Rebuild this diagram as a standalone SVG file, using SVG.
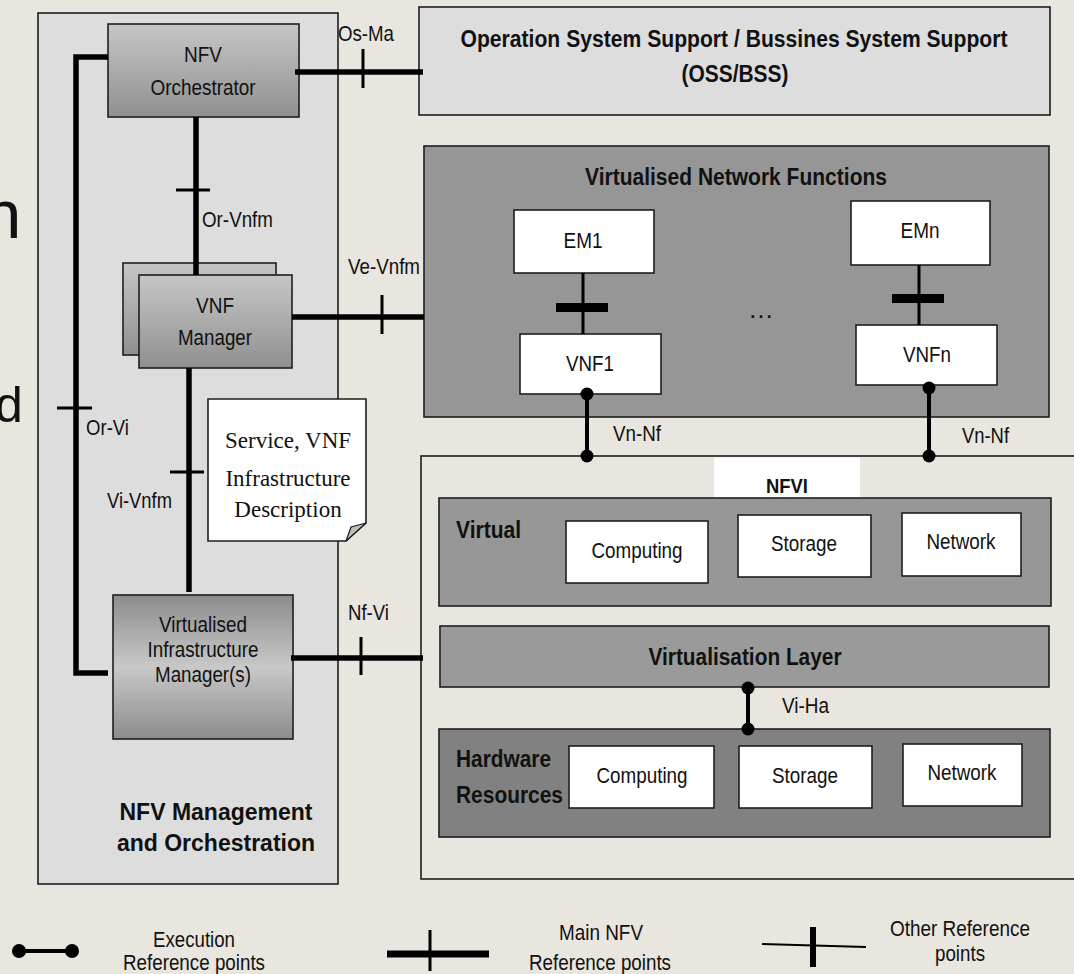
<svg xmlns="http://www.w3.org/2000/svg" width="1074" height="974" viewBox="0 0 1074 974">
<defs>
<linearGradient id="gDown" x1="0" y1="0" x2="0" y2="1">
<stop offset="0" stop-color="#c6c6c6"/><stop offset="1" stop-color="#909090"/>
</linearGradient>
<linearGradient id="gMid" x1="0" y1="0" x2="0" y2="1">
<stop offset="0" stop-color="#8c8c8c"/><stop offset="0.5" stop-color="#c8c8c8"/><stop offset="1" stop-color="#8c8c8c"/>
</linearGradient>
<clipPath id="clipD"><rect x="0" y="386" width="40" height="40"/></clipPath>
<style>
.box{stroke:#1e1e1e;stroke-width:1.6}
.t{font-family:"Liberation Sans",Arial,sans-serif;font-size:21.5px;fill:#111}
.c{text-anchor:middle}
.b{font-family:"Liberation Sans",Arial,sans-serif;font-weight:bold;font-size:23px;fill:#111}
.serif{font-family:"Liberation Serif","Times New Roman",serif;font-size:23px;fill:#111;text-anchor:middle}
.main{stroke:#000;stroke-width:5.5;fill:none}
.tick{stroke:#000;stroke-width:3;fill:none}
.exec{stroke:#000;stroke-width:4;fill:none}
.thin{stroke:#000;stroke-width:3;fill:none}
</style>
</defs>
<rect width="1074" height="974" fill="#e9e5df"/>
<g id="bg-fragments">
<text x="-17" y="238" style="font-family:'Liberation Sans',Arial,sans-serif;font-size:69px;fill:#111">n</text>
<text x="-5" y="422" clip-path="url(#clipD)" style="font-family:'Liberation Sans',Arial,sans-serif;font-size:50px;fill:#111">d</text>
</g>

<g id="mano">
<rect class="box" x="38" y="13" width="300" height="871" fill="#dddddd"/>
<text class="b c" x="216" y="820">NFV Management</text>
<text class="b c" x="216" y="851">and Orchestration</text>
</g>

<g id="oss">
<rect class="box" x="419" y="7" width="631" height="108" fill="#dddddd"/>
<text class="b c" x="734" y="47" textLength="547" lengthAdjust="spacingAndGlyphs">Operation System Support / Bussines System Support</text>
<text class="b c" x="735" y="82" textLength="107" lengthAdjust="spacingAndGlyphs">(OSS/BSS)</text>
</g>

<g id="vnf-area">
<rect class="box" x="424" y="146" width="625" height="271" fill="#969696"/>
<text class="b c" x="736" y="185" textLength="302" lengthAdjust="spacingAndGlyphs">Virtualised Network Functions</text>
<text class="t c" x="761" y="318" style="font-size:26px">…</text>
</g>

<g id="nfvi">
<rect class="box" x="421" y="456" width="660" height="423" fill="#e9e5df"/>
<rect x="714" y="457.5" width="146" height="40" fill="#ffffff"/>
<text class="b c" x="787" y="493" textLength="42" lengthAdjust="spacingAndGlyphs" style="font-size:21px">NFVI</text>
</g>

<g id="virtual">
<rect class="box" x="439" y="498" width="612" height="108" fill="#979797"/>
<text class="b" x="456" y="538" textLength="65" lengthAdjust="spacingAndGlyphs">Virtual</text>
</g>
<g id="v-computing"><rect class="box" x="566" y="521" width="142" height="62" fill="#fff"/><text class="t c" x="637" y="558" textLength="91" lengthAdjust="spacingAndGlyphs">Computing</text></g>
<g id="v-storage"><rect class="box" x="738" y="515" width="133" height="62" fill="#fff"/><text class="t c" x="804" y="551" textLength="66" lengthAdjust="spacingAndGlyphs">Storage</text></g>
<g id="v-network"><rect class="box" x="902" y="513" width="119" height="63" fill="#fff"/><text class="t c" x="961" y="549" textLength="69" lengthAdjust="spacingAndGlyphs">Network</text></g>

<g id="virt-layer">
<rect class="box" x="440" y="626" width="609" height="61" fill="#9a9a9a"/>
<text class="b c" x="745" y="665" textLength="193" lengthAdjust="spacingAndGlyphs">Virtualisation Layer</text>
</g>

<g id="hardware">
<rect class="box" x="439" y="729" width="611" height="108" fill="#818181"/>
<text class="b" x="456" y="767" textLength="95" lengthAdjust="spacingAndGlyphs">Hardware</text>
<text class="b" x="456" y="803" textLength="107" lengthAdjust="spacingAndGlyphs">Resources</text>
</g>
<g id="h-computing"><rect class="box" x="569" y="746" width="145" height="62" fill="#fff"/><text class="t c" x="642" y="783" textLength="91" lengthAdjust="spacingAndGlyphs">Computing</text></g>
<g id="h-storage"><rect class="box" x="739" y="746" width="133" height="62" fill="#fff"/><text class="t c" x="805" y="783" textLength="66" lengthAdjust="spacingAndGlyphs">Storage</text></g>
<g id="h-network"><rect class="box" x="903" y="744" width="119" height="62" fill="#fff"/><text class="t c" x="962" y="780" textLength="69" lengthAdjust="spacingAndGlyphs">Network</text></g>

<g id="em1"><rect class="box" x="514" y="210" width="140" height="63" fill="#fff"/><text class="t c" x="583" y="248" textLength="39" lengthAdjust="spacingAndGlyphs">EM1</text></g>
<g id="vnf1"><rect class="box" x="520" y="334" width="141" height="60" fill="#fff"/><text class="t c" x="590" y="371" textLength="48" lengthAdjust="spacingAndGlyphs">VNF1</text></g>
<g id="emn"><rect class="box" x="851" y="201" width="139" height="64" fill="#fff"/><text class="t c" x="920" y="238" textLength="39" lengthAdjust="spacingAndGlyphs">EMn</text></g>
<g id="vnfn"><rect class="box" x="856" y="325" width="141" height="60" fill="#fff"/><text class="t c" x="927" y="362" textLength="48" lengthAdjust="spacingAndGlyphs">VNFn</text></g>

<g id="nfvo">
<rect class="box" x="108" y="24" width="191" height="93" fill="url(#gDown)"/>
<text class="t c" x="203" y="62" textLength="38" lengthAdjust="spacingAndGlyphs">NFV</text>
<text class="t c" x="203" y="95" textLength="105" lengthAdjust="spacingAndGlyphs">Orchestrator</text>
</g>

<g id="vnfm">
<rect class="box" x="123" y="263" width="153" height="92" fill="url(#gDown)"/>
<rect class="box" x="139" y="275" width="153" height="93" fill="url(#gDown)"/>
<text class="t c" x="215" y="313" textLength="38" lengthAdjust="spacingAndGlyphs">VNF</text>
<text class="t c" x="215" y="345" textLength="74" lengthAdjust="spacingAndGlyphs">Manager</text>
</g>

<g id="vim">
<rect class="box" x="113" y="595" width="180" height="144" fill="url(#gMid)"/>
<text class="t c" x="203" y="632" textLength="88" lengthAdjust="spacingAndGlyphs">Virtualised</text>
<text class="t c" x="203" y="657" textLength="111" lengthAdjust="spacingAndGlyphs">Infrastructure</text>
<text class="t c" x="203" y="682" textLength="96" lengthAdjust="spacingAndGlyphs">Manager(s)</text>
</g>

<g id="descriptor">
<path class="box" d="M208,399 H366 V523 L346,541 H208 Z" fill="#ffffff"/>
<path d="M346,541 L351,527 L366,523 Z" fill="#bdbdbd" stroke="#1e1e1e" stroke-width="1.2"/>
<text class="serif" x="288" y="448">Service, VNF</text>
<text class="serif" x="288" y="486">Infrastructure</text>
<text class="serif" x="288" y="517">Description</text>
</g>

<g id="connectors">
<line class="main" x1="295" y1="72" x2="423" y2="72"/>
<line class="tick" x1="363" y1="49" x2="363" y2="88"/>
<text class="t" x="338" y="41" textLength="56" lengthAdjust="spacingAndGlyphs">Os-Ma</text>
<line class="main" x1="196" y1="117" x2="196" y2="275"/>
<line class="tick" x1="176" y1="190" x2="210" y2="190"/>
<text class="t" x="202" y="227" textLength="71" lengthAdjust="spacingAndGlyphs">Or-Vnfm</text>
<line class="main" x1="292" y1="317" x2="424" y2="317"/>
<line class="tick" x1="382" y1="295" x2="382" y2="334"/>
<text class="t" x="348" y="274" textLength="72" lengthAdjust="spacingAndGlyphs">Ve-Vnfm</text>
<path class="main" d="M108,57 H76 V673 H108" stroke-linejoin="miter"/>
<line class="tick" x1="57" y1="408" x2="92" y2="408"/>
<text class="t" x="86" y="435" textLength="43" lengthAdjust="spacingAndGlyphs">Or-Vi</text>
<line class="main" x1="189" y1="368" x2="189" y2="592"/>
<line class="tick" x1="170" y1="472" x2="204" y2="472"/>
<text class="t" x="107" y="508" textLength="65" lengthAdjust="spacingAndGlyphs">Vi-Vnfm</text>
<line class="main" x1="291" y1="658" x2="423" y2="658"/>
<line class="tick" x1="361" y1="637" x2="361" y2="675"/>
<text class="t" x="348" y="620" textLength="41" lengthAdjust="spacingAndGlyphs">Nf-Vi</text>
<line class="thin" x1="583" y1="273" x2="583" y2="334"/>
<rect x="556" y="303" width="52" height="9" fill="#000"/>
<line class="thin" x1="919" y1="265" x2="919" y2="325"/>
<rect x="892" y="294" width="52" height="9" fill="#000"/>
<line class="exec" x1="587" y1="394" x2="587" y2="456"/>
<circle cx="587" cy="394" r="6.5" fill="#000"/>
<circle cx="587" cy="456" r="6.5" fill="#000"/>
<text class="t" x="613" y="441" textLength="48" lengthAdjust="spacingAndGlyphs">Vn-Nf</text>
<line class="exec" x1="929" y1="388" x2="929" y2="456"/>
<circle cx="929" cy="388" r="6.5" fill="#000"/>
<circle cx="929" cy="456" r="6.5" fill="#000"/>
<text class="t" x="962" y="443" textLength="47" lengthAdjust="spacingAndGlyphs">Vn-Nf</text>
<line class="exec" x1="748" y1="688" x2="748" y2="729"/>
<circle cx="748" cy="688" r="6.5" fill="#000"/>
<circle cx="748" cy="729" r="6.5" fill="#000"/>
<text class="t" x="782" y="713" textLength="47" lengthAdjust="spacingAndGlyphs">Vi-Ha</text>
</g>

<g id="legend">
<line class="exec" x1="19" y1="951" x2="72" y2="951"/>
<circle cx="19" cy="951" r="7" fill="#000"/>
<circle cx="72" cy="951" r="7" fill="#000"/>
<text class="t c" x="194" y="947" textLength="82" lengthAdjust="spacingAndGlyphs">Execution</text>
<text class="t c" x="194" y="970" textLength="142" lengthAdjust="spacingAndGlyphs">Reference points</text>
<line x1="387" y1="954" x2="489" y2="954" stroke="#000" stroke-width="7"/>
<line x1="430" y1="930" x2="430" y2="971" stroke="#000" stroke-width="3"/>
<text class="t c" x="601" y="940" textLength="84" lengthAdjust="spacingAndGlyphs">Main NFV</text>
<text class="t c" x="600" y="970" textLength="142" lengthAdjust="spacingAndGlyphs">Reference points</text>
<line x1="762" y1="944" x2="866" y2="947" stroke="#000" stroke-width="1.8"/>
<line x1="813" y1="927" x2="813" y2="967" stroke="#000" stroke-width="6"/>
<text class="t c" x="960" y="936" textLength="140" lengthAdjust="spacingAndGlyphs">Other Reference</text>
<text class="t c" x="960" y="961" textLength="50" lengthAdjust="spacingAndGlyphs">points</text>
</g>
</svg>
